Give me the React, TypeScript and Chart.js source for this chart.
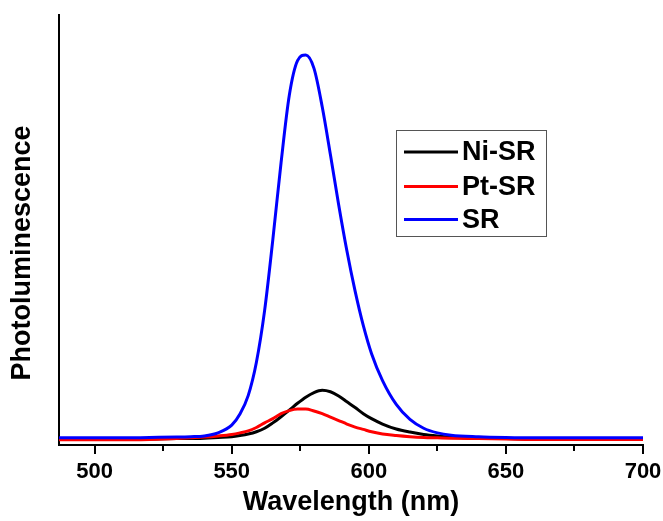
import React, { useEffect, useRef } from "react";
import { Chart, registerables } from "chart.js";

Chart.register(...registerables);

const FONT = '"Liberation Sans", Arial, sans-serif';

const wavelengths = [487, 500, 510, 520, 530, 535, 540, 545, 550, 553, 556, 559, 562, 565, 568, 571, 574, 577, 580, 583, 586, 589, 592, 595, 598, 601, 605, 610, 615, 620, 625, 630, 640, 650, 660, 680, 700];

const niSR = [0, 0, 0, 0, 0.1, 0.1, 0.2, 0.4, 0.6, 0.9, 1.3, 1.9, 2.8, 4.2, 5.8, 7.5, 9.3, 10.9, 12.1, 12.7, 12.3, 11.2, 9.7, 8.2, 6.6, 5.3, 3.9, 2.6, 1.8, 1.2, 0.8, 0.5, 0.2, 0.1, 0, 0, 0];

const ptSR = [-0.2, -0.2, -0.2, -0.1, 0.1, 0.3, 0.5, 0.8, 1.2, 1.6, 2.1, 3.0, 4.2, 5.3, 6.6, 7.4, 7.8, 7.8, 7.3, 6.6, 5.7, 4.8, 3.9, 3.1, 2.5, 1.9, 1.3, 0.9, 0.6, 0.4, 0.3, 0.2, 0.1, 0, -0.1, -0.1, -0.1];

const sr = [0.3, 0.3, 0.3, 0.4, 0.5, 0.6, 0.8, 1.6, 3.6, 6.5, 11.3, 20, 33.5, 52, 72, 89.5, 98.5, 100, 96.5, 86.5, 74, 61, 49, 38.5, 29.5, 22.2, 15.2, 9, 5.1, 2.8, 1.6, 1.0, 0.6, 0.4, 0.3, 0.3, 0.3];

const seriesLabels = ["Ni-SR", "Pt-SR", "SR"];
const seriesColors = ["#000000", "#ff0000", "#0000ff"];
const majorTicks = [500, 550, 600, 650, 700];
const minorTicks = [525, 575, 625, 675];
const xTitle = "Wavelength (nm)";
const yTitle = "Photoluminescence";

const decorPlugin = {
  id: "decor",
  afterDraw(chart: any) {
    const { ctx, chartArea, scales } = chart;
    const xs = scales.x;
    ctx.save();
    ctx.strokeStyle = "#000";
    ctx.lineWidth = 2;
    const drawTick = (v: number, len: number) => {
      const px = Math.round(xs.getPixelForValue(v));
      ctx.beginPath();
      ctx.moveTo(px, chartArea.bottom);
      ctx.lineTo(px, chartArea.bottom + len);
      ctx.stroke();
    };
    majorTicks.forEach((v) => drawTick(v, 9));
    minorTicks.forEach((v) => drawTick(v, 6));

    ctx.save();
    ctx.translate(22.5, 253);
    ctx.rotate(-Math.PI / 2);
    ctx.font = `bold 27px ${FONT}`;
    ctx.fillStyle = "#000";
    ctx.textAlign = "center";
    ctx.textBaseline = "middle";
    ctx.fillText(yTitle, 0, 0);
    ctx.restore();

    const bx = 396.5, by = 130.5, bw = 150, bh = 106;
    ctx.fillStyle = "#fff";
    ctx.fillRect(bx, by, bw, bh);
    ctx.strokeStyle = "#555";
    ctx.lineWidth = 1;
    ctx.strokeRect(bx, by, bw, bh);
    const rows = [152, 186.5, 219.5];
    ctx.font = `bold 27px ${FONT}`;
    ctx.textAlign = "left";
    ctx.textBaseline = "middle";
    seriesLabels.forEach((lab, i) => {
      ctx.strokeStyle = seriesColors[i];
      ctx.lineWidth = 3;
      ctx.beginPath();
      ctx.moveTo(404, rows[i]);
      ctx.lineTo(458, rows[i]);
      ctx.stroke();
      ctx.fillStyle = "#000";
      ctx.fillText(lab, 462, rows[i] + 1);
    });
    ctx.restore();
  },
};

export default function App() {
  const ref = useRef<HTMLCanvasElement | null>(null);

  useEffect(() => {
    if (!ref.current) return;
    const series = [niSR, ptSR, sr];
    const orders = [2, 1, 0];
    const chart = new Chart(ref.current, {
      type: "line",
      data: {
        datasets: series.map((vals, i) => ({
          label: seriesLabels[i],
          data: wavelengths.map((x, j) => ({ x, y: vals[j] })),
          borderColor: seriesColors[i],
          backgroundColor: seriesColors[i],
          borderWidth: 3,
          pointRadius: 0,
          cubicInterpolationMode: "monotone",
          fill: false,
          order: orders[i],
        })),
      },
      options: {
        responsive: false,
        animation: false,
        devicePixelRatio: 1,
        layout: { padding: { top: 15, right: 20, left: 0, bottom: 0 } },
        plugins: { legend: { display: false }, tooltip: { enabled: false } },
        scales: {
          x: {
            type: "linear",
            min: 487,
            max: 700,
            afterFit: (s: any) => {
              s.height = 76;
              s.paddingLeft = 0;
              s.paddingRight = 0;
            },
            afterBuildTicks: (s: any) => {
              s.ticks = majorTicks.map((v) => ({ value: v }));
            },
            ticks: {
              autoSkip: false,
              maxRotation: 0,
              color: "#000",
              padding: 6,
              font: { family: FONT, size: 22, weight: "bold" },
              callback: (v: any) => String(v),
            },
            grid: { display: false },
            border: { display: true, color: "#000", width: 2 },
            title: {
              display: true,
              text: xTitle,
              color: "#000",
              font: { family: FONT, size: 27, weight: "bold" },
              padding: { top: 0, bottom: 2 },
            },
          },
          y: {
            type: "linear",
            min: -1.56,
            max: 110.4,
            afterFit: (s: any) => {
              s.width = 59;
            },
            ticks: { display: false },
            grid: { display: false },
            border: { display: true, color: "#000", width: 2 },
          },
        },
      },
      plugins: [decorPlugin],
    } as any);
    return () => chart.destroy();
  }, []);

  return (
    <div style={{ position: "fixed", left: 0, top: 0, width: 663, height: 521, background: "#fff" }}>
      <canvas ref={ref} width={663} height={521} />
    </div>
  );
}
